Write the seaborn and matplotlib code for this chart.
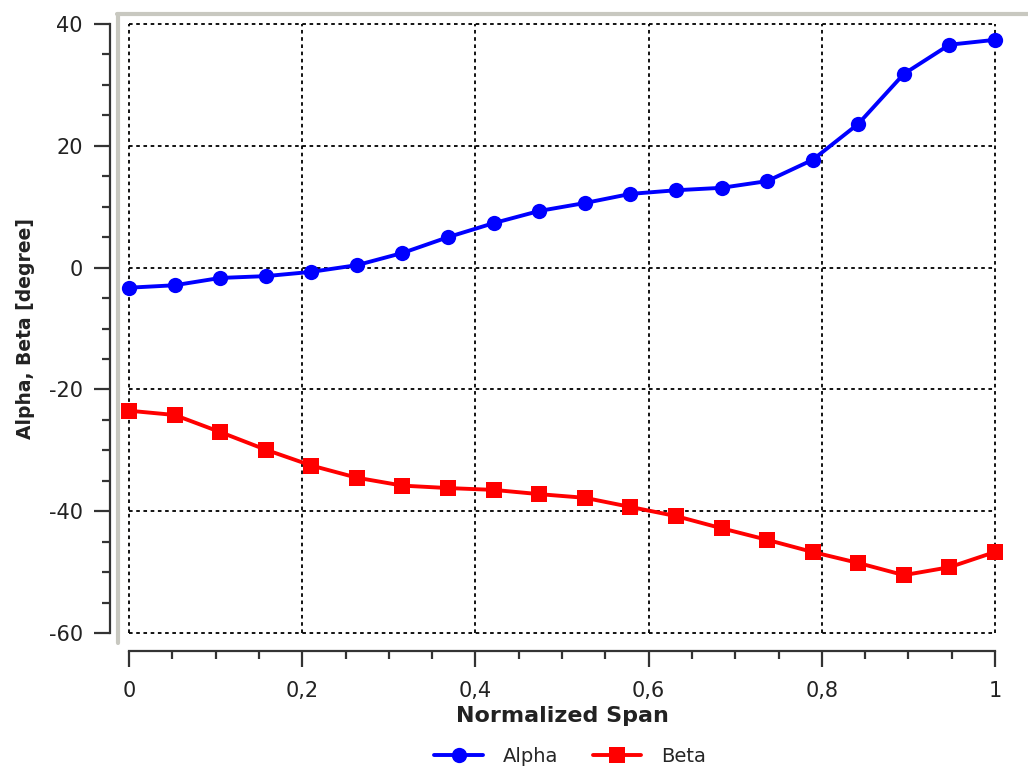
import numpy as np
import pandas as pd
import matplotlib
matplotlib.use("Agg")
import matplotlib.pyplot as plt
from matplotlib.lines import Line2D
from matplotlib.ticker import MultipleLocator, FuncFormatter
import seaborn as sns

span = [i / 19 for i in range(20)]
alpha = [-3.3, -2.9, -1.7, -1.4, -0.7, 0.4, 2.4, 5.0, 7.3, 9.3, 10.6, 12.1,
         12.7, 13.1, 14.2, 17.7, 23.6, 31.8, 36.6, 37.4]
beta = [-23.5, -24.2, -27.0, -29.9, -32.5, -34.5, -35.8, -36.2, -36.5, -37.2,
        -37.8, -39.3, -40.8, -42.8, -44.7, -46.7, -48.5, -50.5, -49.2, -46.7]
series = ["Alpha", "Beta"]
xlabel = "Normalized Span"
ylabel = "Alpha, Beta [degree]"

df = pd.DataFrame({
    "span": span * 2,
    "value": alpha + beta,
    "series": ["Alpha"] * len(span) + ["Beta"] * len(span),
})

sns.set_style("ticks")
plt.rcParams["font.family"] = ["DejaVu Sans"]

W, H = 1028, 775
fig = plt.figure(figsize=(W / 100, H / 100), dpi=100)
ax = fig.add_axes([129 / W, 1 - 633 / H, (995 - 129) / W, (633 - 24) / H])

sns.lineplot(data=df, x="span", y="value", hue="series", style="series",
             palette={"Alpha": "#0000ff", "Beta": "#ff0000"},
             markers={"Alpha": "o", "Beta": "s"}, dashes=False,
             markersize=11, linewidth=2.8, markeredgewidth=0,
             ax=ax, legend=False, zorder=3)
for ln in ax.get_lines():
    ln.set_clip_on(False)

ax.set_xlim(0, 1)
ax.set_ylim(-60, 40)
ax.xaxis.set_major_locator(MultipleLocator(0.2))
ax.xaxis.set_minor_locator(MultipleLocator(0.05))
ax.yaxis.set_major_locator(MultipleLocator(20))
ax.yaxis.set_minor_locator(MultipleLocator(5))

def fmt(v, pos):
    s = f"{v:.1f}".rstrip("0").rstrip(".")
    if s == "-0":
        s = "0"
    return s.replace(".", ",")
ax.xaxis.set_major_formatter(FuncFormatter(fmt))
ax.yaxis.set_major_formatter(FuncFormatter(lambda v, p: f"{int(round(v))}"))

ax.grid(True, which="major", color="black", linestyle=(0, (2, 2)), linewidth=1.3, zorder=0)
ax.set_axisbelow(True)

for s in ["top", "right"]:
    ax.spines[s].set_visible(False)
ax.spines["left"].set_position(("outward", 19 * 0.72))
ax.spines["bottom"].set_position(("outward", 18 * 0.72))
for s in ["left", "bottom"]:
    ax.spines[s].set_color("#333333")
    ax.spines[s].set_linewidth(1.6)

ax.tick_params(which="major", length=11.5, width=1.6, color="#333333",
               labelsize=15, labelcolor="#222222")
ax.tick_params(which="minor", length=6, width=1.6, color="#333333")
ax.tick_params(axis="y", pad=8)
ax.tick_params(axis="x", pad=10)

ax.set_xlabel(xlabel, fontsize=16, fontweight="bold", color="#222222", labelpad=4)
ax.set_ylabel(ylabel, fontsize=13.5, fontweight="bold", color="#222222", labelpad=10)

fig.canvas.draw()
for gl in ax.get_xgridlines() + ax.get_ygridlines():
    gl.set_clip_on(False)

# grey frame on left and top
fig.add_artist(Line2D([118 / W, 118 / W], [1 - 14 / H, 1 - 643 / H],
                      transform=fig.transFigure, color="#c8c8c0", linewidth=3))
fig.add_artist(Line2D([117 / W, 1.0], [1 - 14 / H, 1 - 14 / H],
                      transform=fig.transFigure, color="#c8c8c0", linewidth=3))

handles = [
    Line2D([], [], color="#0000ff", marker="o", markersize=11, linewidth=2.8,
           markeredgewidth=0, label="Alpha"),
    Line2D([], [], color="#ff0000", marker="s", markersize=11, linewidth=2.8,
           markeredgewidth=0, label="Beta"),
]
fig.legend(handles=handles, loc="center", bbox_to_anchor=(570 / W, 1 - 756 / H),
           ncol=2, frameon=False, fontsize=14, handlelength=2.5,
           columnspacing=1.8, handletextpad=1.0)

fig.savefig("out.png", dpi=100)
